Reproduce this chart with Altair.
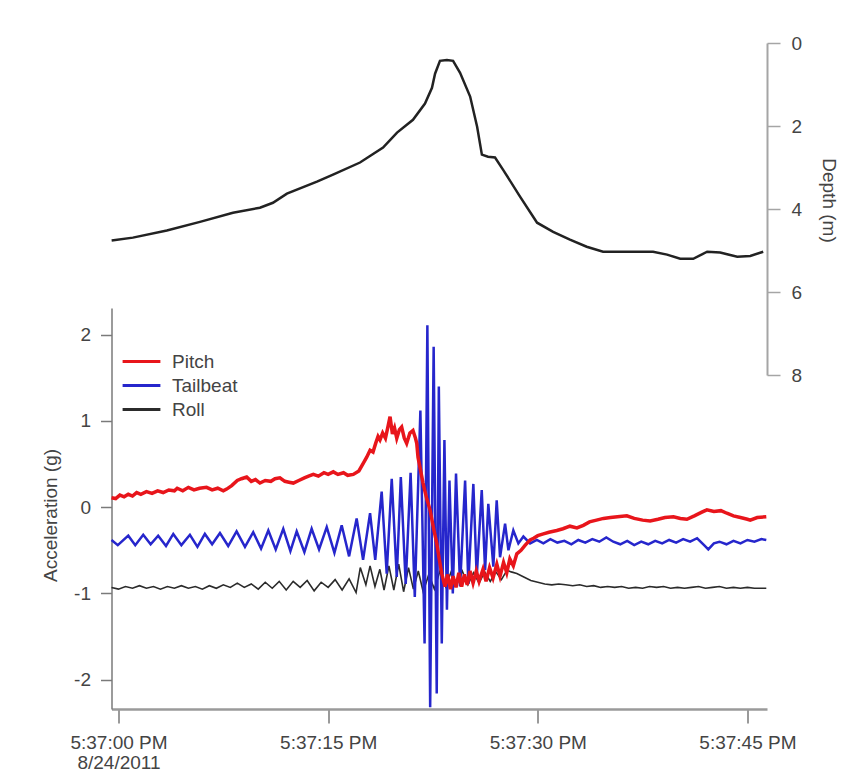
import json
import altair as alt
import pandas as pd

FONT = "Liberation Sans"
TEXT_COLOR = "#444444"

SERIES = ["Pitch", "Tailbeat", "Roll"]
SERIES_COLORS = ["#e8151b", "#2626cc", "#2b2b2b"]

X_TICKS = [0, 15, 30, 45]
X_TICK_LABELS = [["5:37:00 PM", "8/24/2011"], ["5:37:15 PM"], ["5:37:30 PM"], ["5:37:45 PM"]]
ACC_TICKS = [-2, -1, 0, 1, 2]
DEPTH_TICKS = [0, 2, 4, 6, 8]

# time in seconds after 5:37:00 PM
DEPTH_T = [-0.49, 1.03, 3.46, 5.83, 8.19, 10.12, 11.05, 12.05, 14.2, 15.35, 17.28, 18.93, 19.93,
           21.07, 21.93, 22.43, 22.65, 23.0, 23.5, 23.94, 24.44, 25.16, 25.66, 26.0, 26.44, 26.94,
           27.51, 28.73, 29.95, 31.1, 32.3, 33.5, 34.67, 38.25, 39.25, 40.19, 41.12, 42.12, 43.05,
           44.27, 45.2, 46.13]
DEPTH_M = [4.76, 4.69, 4.52, 4.31, 4.09, 3.97, 3.85, 3.63, 3.34, 3.17, 2.88, 2.52, 2.16,
           1.85, 1.46, 1.08, 0.74, 0.43, 0.41, 0.43, 0.72, 1.29, 2.02, 2.69, 2.74, 2.76,
           3.05, 3.70, 4.33, 4.55, 4.74, 4.91, 5.03, 5.03, 5.10, 5.20, 5.20, 5.03, 5.05,
           5.15, 5.13, 5.03]

PITCH_T = [-0.5, -0.2, 0.1, 0.4, 0.7, 1.0, 1.3, 1.6, 2.0, 2.4, 2.8, 3.2, 3.6, 4.0, 4.2, 4.6, 5.0,
           5.4, 5.8, 6.3, 6.7, 7.1, 7.5, 7.74, 8.1, 8.5, 8.8, 9.17, 9.5, 9.8, 10.12, 10.5, 10.9,
           11.2, 11.55, 11.9, 12.2, 12.51, 12.9, 13.3, 13.6, 13.94, 14.3, 14.7, 15.0, 15.37, 15.7,
           16.1, 16.4, 16.8, 17.2, 17.52, 17.76, 18.0, 18.21, 18.4, 18.57, 18.71, 18.9, 19.1,
           19.3, 19.43, 19.6, 19.75, 19.91, 20.1, 20.26, 20.45, 20.62, 20.85, 21.07, 21.25,
           21.34, 21.43, 21.79, 22.05, 22.29, 22.55, 22.77, 22.95, 23.13, 23.36, 23.55, 23.75,
           23.94, 24.15, 24.35, 24.55, 24.75, 24.95, 25.15, 25.37, 25.6, 25.8, 26.08, 26.3,
           26.55, 26.8, 27.07, 27.3, 27.55, 27.78, 28.0, 28.25, 28.5, 28.8, 29.1, 29.45, 29.7,
           30.0, 30.4, 30.8, 31.36, 31.8, 32.3, 32.8, 33.26, 33.7, 34.2, 34.7, 35.2, 35.7, 36.37,
           36.9, 37.5, 38.04, 38.6, 39.1, 39.71, 40.2, 40.67, 41.2, 41.7, 42.1, 42.6, 43.1,
           43.53, 44.0, 44.5, 45.0, 45.2, 45.7, 46.35]
PITCH_A = [0.11, 0.10, 0.14, 0.12, 0.15, 0.13, 0.17, 0.15, 0.18, 0.16, 0.19, 0.17, 0.20, 0.19, 0.22, 0.19, 0.23,
           0.20, 0.22, 0.23, 0.20, 0.22, 0.19, 0.21, 0.25, 0.31, 0.33, 0.35, 0.30, 0.32, 0.28, 0.31, 0.30,
           0.33, 0.34, 0.30, 0.29, 0.28, 0.31, 0.34, 0.36, 0.38, 0.36, 0.40, 0.38, 0.41, 0.38,
           0.40, 0.37, 0.38, 0.42, 0.51, 0.58, 0.66, 0.64, 0.74, 0.82, 0.78, 0.86, 0.80,
           0.95, 1.05, 0.85, 0.92, 0.80, 0.90, 0.93, 0.80, 0.74, 0.86, 0.89, 0.80,
           0.74, 0.58, 0.28, 0.10, -0.03, -0.25, -0.42, -0.60, -0.77, -0.92, -0.78, -0.95,
           -0.80, -0.93, -0.76, -0.92, -0.78, -0.90, -0.74, -0.88, -0.74, -0.86, -0.72, -0.86,
           -0.70, -0.82, -0.66, -0.80, -0.64, -0.76, -0.60, -0.68, -0.54, -0.50, -0.44, -0.38, -0.36,
           -0.33, -0.31, -0.29, -0.27, -0.25, -0.22, -0.24, -0.21, -0.17, -0.15, -0.13, -0.12, -0.11, -0.10,
           -0.13, -0.15, -0.16, -0.14, -0.12, -0.11, -0.13, -0.14, -0.10, -0.06, -0.03, -0.05, -0.04,
           -0.07, -0.10, -0.12, -0.14, -0.15, -0.12, -0.11]

TAIL_T = [-0.5, -0.05, 0.7, 1.2, 1.77, 2.3, 2.84, 3.4, 3.92, 4.5, 5.11, 5.65, 6.18, 6.7, 7.26, 7.85,
          8.45, 9.05, 9.64, 10.2, 10.72, 11.25, 11.79, 12.3, 12.75, 13.3, 13.82, 14.35, 14.9, 15.45,
          15.97, 16.5, 17.04, 17.5, 18.0, 18.37, 18.83, 19.19, 19.55, 19.91, 20.2, 20.55, 20.9, 21.2,
          21.6, 21.9, 22.1, 22.3, 22.55, 22.77, 22.92, 23.13, 23.32, 23.5, 23.68, 23.92, 24.15, 24.44,
          24.8, 25.03, 25.39, 25.63, 25.99, 26.23, 26.46, 26.82, 27.06, 27.3, 27.66, 27.9, 28.25,
          28.61, 28.97, 29.45, 29.93, 30.4, 30.9, 31.4, 31.9, 32.4, 32.9, 33.4, 33.9, 34.4, 34.9,
          35.4, 35.9, 36.4, 36.9, 37.4, 37.9, 38.4, 38.9, 39.4, 39.9, 40.4, 40.9, 41.4, 41.9, 42.2,
          42.6, 43.0, 43.5, 44.0, 44.5, 45.0, 45.5, 46.0, 46.35]
TAIL_A = [-0.38, -0.44, -0.33, -0.44, -0.32, -0.43, -0.33, -0.45, -0.31, -0.44, -0.32, -0.46, -0.31, -0.43, -0.30, -0.45,
          -0.28, -0.46, -0.29, -0.48, -0.27, -0.49, -0.25, -0.51, -0.28, -0.52, -0.25, -0.49, -0.23, -0.53,
          -0.21, -0.57, -0.13, -0.61, -0.07, -0.61, 0.18, -0.77, 0.33, -0.81, 0.35, -0.89, 0.40, -1.04,
          1.12, -1.58, 2.11, -2.32, 1.86, -2.16, 1.40, -1.58, 0.78, -1.19, 0.31, -1.00, 0.39, -0.92,
          0.31, -0.89, 0.27, -0.81, 0.20, -0.73, 0.04, -0.69, 0.08, -0.58, -0.19, -0.50, -0.27,
          -0.42, -0.34, -0.42, -0.38, -0.42, -0.37, -0.41, -0.39, -0.43, -0.38, -0.41, -0.37, -0.40, -0.35,
          -0.40, -0.43, -0.39, -0.44, -0.40, -0.43, -0.39, -0.42, -0.38, -0.41, -0.37, -0.40, -0.36, -0.44, -0.49,
          -0.42, -0.40, -0.43, -0.39, -0.42, -0.38, -0.40, -0.37, -0.38]

ROLL_T = [-0.5, 0.0, 0.5, 1.0, 1.5, 2.0, 2.5, 3.0, 3.5, 4.0, 4.5, 5.0, 5.5, 6.0, 6.5, 7.0, 7.5, 8.0,
          8.5, 9.0, 9.5, 10.0, 10.5, 11.0, 11.5, 12.0, 12.5, 13.0, 13.5, 14.0, 14.5, 15.0, 15.5,
          16.0, 16.5, 17.0, 17.3, 17.7, 18.0, 18.35, 18.7, 19.0, 19.35, 19.7, 20.05, 20.4, 20.75,
          21.1, 21.45, 21.8, 22.2, 22.6, 23.0, 23.4, 23.8, 24.2, 24.6, 25.0, 25.4, 25.8, 26.2,
          26.6, 27.0, 27.4, 27.8, 28.1, 28.5, 29.0, 29.5, 30.0, 30.5, 31.0, 31.5, 32.0, 32.5,
          33.0, 33.5, 34.0, 34.5, 35.0, 35.5, 36.0, 36.5, 37.0, 37.5, 38.0, 38.5, 39.0, 39.5,
          40.0, 40.5, 41.0, 41.5, 42.0, 42.5, 43.0, 43.5, 44.0, 44.5, 45.0, 45.5, 46.0, 46.35]
ROLL_A = [-0.93, -0.95, -0.92, -0.94, -0.91, -0.94, -0.92, -0.95, -0.92, -0.94, -0.91, -0.94, -0.92, -0.95, -0.91, -0.94, -0.90, -0.93,
          -0.88, -0.93, -0.89, -0.95, -0.87, -0.94, -0.86, -0.96, -0.86, -0.93, -0.85, -0.97, -0.87, -0.93, -0.84,
          -0.96, -0.83, -0.99, -0.70, -0.90, -0.68, -0.92, -0.72, -0.96, -0.68, -0.96, -0.66, -0.98, -0.70,
          -0.95, -0.74, -0.98, -0.78, -0.95, -0.74, -0.92, -0.75, -0.90, -0.74, -0.90, -0.76, -0.88, -0.75,
          -0.86, -0.75, -0.84, -0.73, -0.75, -0.77, -0.81, -0.85, -0.87, -0.89, -0.90, -0.89, -0.90, -0.91,
          -0.90, -0.92, -0.91, -0.93, -0.92, -0.93, -0.92, -0.94, -0.93, -0.94, -0.92, -0.93, -0.92, -0.94,
          -0.93, -0.94, -0.93, -0.92, -0.94, -0.93, -0.92, -0.94, -0.93, -0.94, -0.93, -0.94, -0.94, -0.94]

# ---- tables built from the arrays ----
depth_df = pd.DataFrame({"t": DEPTH_T, "depth": DEPTH_M})
accel_df = pd.concat([
    pd.DataFrame({"t": PITCH_T, "a": PITCH_A, "series": "Pitch"}),
    pd.DataFrame({"t": TAIL_T, "a": TAIL_A, "series": "Tailbeat"}),
    pd.DataFrame({"t": ROLL_T, "a": ROLL_A, "series": "Roll"}),
], ignore_index=True)

label_expr = ""
for v, lab in zip(X_TICKS, X_TICK_LABELS):
    label_expr += f"datum.value == {v} ? {json.dumps(lab)} : "
label_expr += "''"

# plain hyphen for negative tick labels, as in the original
hyphen_expr = "datum.value < 0 ? '-' + abs(datum.value) : '' + datum.value"

PLOT_W = 655.5
PLOT_H = 666

x_enc = alt.X(
    "t:Q",
    scale=alt.Scale(domain=[-0.5, 46.4], nice=False, zero=False),
    axis=alt.Axis(values=X_TICKS, labelExpr=label_expr, title=None, grid=False,
                  domainColor="#9a9a9a", domainWidth=2.5, tickColor="#9a9a9a", tickWidth=2,
                  tickSize=14, labelFont=FONT, labelFontSize=19, labelColor=TEXT_COLOR,
                  labelPadding=10, labelLineHeight=20, labelFlush=False, labelOverlap=False),
)

acc_y = alt.Y(
    "a:Q",
    scale=alt.Scale(domain=[-2.34, 2.31], range=[666, 265], nice=False, zero=False),
    axis=alt.Axis(orient="left", values=ACC_TICKS, labelExpr=hyphen_expr,
                  title="Acceleration (g)", grid=False,
                  domainColor="#7a7a7a", domainWidth=1.5, tickColor="#7a7a7a", tickWidth=1.5,
                  tickSize=11, labelFont=FONT, labelFontSize=19, labelColor=TEXT_COLOR,
                  labelPadding=10, titleFont=FONT, titleFontSize=19, titleFontWeight="normal",
                  titleColor=TEXT_COLOR, titleX=-61.5, titleY=472, titleAngle=270,
                  titleAlign="center", titleBaseline="middle"),
)

# a long horizontal stroke as the legend symbol (the path is scaled by sqrt(size)/2)
LEGEND_LINE = "M-2.7,0H2.7"

color_enc = alt.Color(
    "series:N",
    scale=alt.Scale(domain=SERIES, range=SERIES_COLORS),
    legend=alt.Legend(title=None, orient="none", legendX=20.5, legendY=309, symbolType=LEGEND_LINE,
                      symbolSize=196, symbolStrokeWidth=3, labelFont=FONT, labelFontSize=19,
                      labelColor=TEXT_COLOR, labelOffset=21, rowPadding=4, padding=0),
)

base = alt.Chart(accel_df)
roll = base.transform_filter(alt.datum.series == "Roll").mark_line(strokeWidth=1.6).encode(
    x=x_enc, y=acc_y, color=color_enc)
tail = base.transform_filter(alt.datum.series == "Tailbeat").mark_line(strokeWidth=2.5).encode(
    x=x_enc, y=acc_y, color=color_enc)
pitch = base.transform_filter(alt.datum.series == "Pitch").mark_line(strokeWidth=3.5).encode(
    x=x_enc, y=acc_y, color=color_enc)
accel = alt.layer(roll, tail, pitch)

depth = alt.Chart(depth_df).mark_line(color="#222222", strokeWidth=2.5).encode(
    x=x_enc,
    y=alt.Y("depth:Q",
            scale=alt.Scale(domain=[0, 8], range=[0, 332], nice=False, zero=False),
            axis=alt.Axis(orient="right", values=DEPTH_TICKS, title="Depth (m)", grid=False,
                          domainColor="#a5a5a5", domainWidth=2, tickColor="#a5a5a5", tickWidth=1.5,
                          tickSize=13, labelFont=FONT, labelFontSize=19, labelColor=TEXT_COLOR,
                          labelPadding=11, titleFont=FONT, titleFontSize=19, titleFontWeight="normal",
                          titleColor=TEXT_COLOR, titleX=61, titleY=157, titleAngle=90,
                          titleAlign="center", titleBaseline="middle")),
)

chart = alt.layer(depth, accel).resolve_scale(y="independent").properties(
    width=PLOT_W,
    height=PLOT_H,
    padding={"left": 103.5, "top": 35, "right": 76, "bottom": 62},
    autosize=alt.AutoSizeParams(type="none"),
    background="white",
).configure_view(stroke=None)

chart.save("out.html", embed_options={"renderer": "svg", "actions": False})
